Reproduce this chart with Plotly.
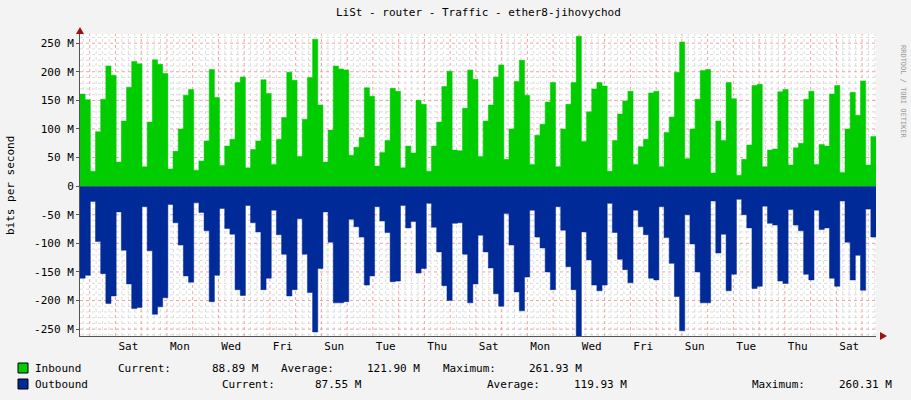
import plotly.graph_objects as go

# Traffic samples (M bit/s), ~4.8 h steps
inbound = [161, 151, 26, 95, 152, 210, 194, 42, 114, 173, 218, 214, 34, 112, 221, 213, 197, 30, 61, 100,
           159, 169, 28, 44, 79, 204, 155, 36, 70, 82, 181, 191, 32, 64, 79, 186, 162, 38, 82,
           120, 199, 185, 52, 117, 190, 257, 142, 42, 98, 210, 205, 203, 54, 68, 85, 172, 157, 35, 59,
           80, 171, 166, 32, 70, 58, 150, 143, 26, 70, 112, 174, 201, 63, 62, 136, 203, 187, 52,
           114, 142, 191, 212, 47, 100, 183, 220, 159, 38, 89, 108, 147, 181, 34, 100, 143, 181, 262, 78,
           130, 170, 181, 175, 26, 80, 126, 149, 166, 38, 69, 82, 163, 166, 34, 94, 121, 199,
           252, 48, 100, 152, 202, 204, 23, 114, 80, 181, 153, 19, 47, 72, 176, 178, 34, 63, 65, 165,
           169, 37, 67, 75, 152, 166, 38, 73, 70, 161, 176, 24, 100, 164, 124, 184, 37, 87]
outbound = [161, 156, 27, 97, 153, 205, 192, 45, 112, 171, 214, 212, 36, 113, 224, 211, 195, 32, 64, 103,
            157, 168, 29, 46, 78, 202, 156, 39, 74, 84, 181, 191, 34, 64, 80, 181, 161, 42, 85,
            119, 192, 181, 57, 119, 186, 255, 144, 45, 98, 204, 204, 202, 58, 71, 89, 173, 157, 36, 61,
            81, 167, 166, 34, 73, 62, 152, 144, 30, 72, 115, 174, 200, 65, 64, 119, 204, 171, 86,
            115, 143, 188, 210, 48, 103, 185, 218, 159, 42, 89, 108, 150, 181, 36, 77, 141, 181, 262, 80,
            129, 173, 183, 173, 30, 81, 128, 146, 169, 42, 71, 85, 161, 164, 36, 90, 135, 193,
            253, 50, 101, 150, 204, 204, 26, 117, 84, 183, 154, 23, 50, 73, 179, 175, 35, 65, 68, 166,
            170, 41, 68, 78, 154, 164, 42, 76, 73, 161, 175, 26, 98, 164, 121, 182, 40, 89]
day_labels = ['Sat', 'Mon', 'Wed', 'Fri', 'Sun', 'Tue', 'Thu', 'Sat', 'Mon', 'Wed', 'Fri', 'Sun', 'Tue', 'Thu', 'Sat']
y_ticks = [-250, -200, -150, -100, -50, 0, 50, 100, 150, 200, 250]

W, H = 911, 400
L, R, T, B = 80, 876, 34, 336
x_start, x_end = -0.377, 30.54
n = len(inbound)
step = (x_end - x_start) / n
xs = [x_start + i * step for i in range(n + 1)]
yin = [v * 1e6 for v in inbound] + [inbound[-1] * 1e6]
yout = [-v * 1e6 for v in outbound] + [-outbound[-1] * 1e6]

mono = 'DejaVu Sans Mono'
fig = go.Figure()
fig.add_trace(go.Scatter(x=xs, y=yin, line_shape='hv', fill='tozeroy', mode='lines',
                         line=dict(color='#00CC00', width=0.5), fillcolor='#00CC00', hoverinfo='skip'))
fig.add_trace(go.Scatter(x=xs, y=yout, line_shape='hv', fill='tozeroy', mode='lines',
                         line=dict(color='#002A97', width=0.5), fillcolor='#002A97', hoverinfo='skip'))

# grid: minor 6h / 10M gray, major midnight / 50M red
shapes = []
for k in range(-1, 31 * 4 + 1):
    xv = k / 4
    if x_start < xv < x_end and k % 4:
        shapes.append(dict(type='line', x0=xv, x1=xv, y0=0, y1=1, yref='paper',
                           line=dict(color='#dcdcdc', width=1, dash='dot'), layer='below'))
for m in range(-26, 27):
    if m % 5:
        shapes.append(dict(type='line', x0=0, x1=1, xref='paper', y0=m * 1e7, y1=m * 1e7,
                           line=dict(color='#dcdcdc', width=1, dash='dot'), layer='below'))
for d in range(0, 31):
    shapes.append(dict(type='line', x0=d, x1=d, y0=0, y1=1, yref='paper',
                       line=dict(color='#f2a0a0', width=1, dash='dot'), layer='below'))
for t in y_ticks:
    shapes.append(dict(type='line', x0=0, x1=1, xref='paper', y0=t * 1e6, y1=t * 1e6,
                       line=dict(color='#f2a0a0', width=1, dash='dot'), layer='below'))


def px(x):
    return (x - L) / (R - L)


def py(y):
    return (B - y) / (B - T)


# legend squares
for yy, c in [(368, '#00CC00'), (384, '#002A97')]:
    shapes.append(dict(type='rect', xref='paper', yref='paper', x0=px(18), x1=px(28),
                       y0=py(yy + 5), y1=py(yy - 5), fillcolor=c, line=dict(color='black', width=1)))

# axis arrows
shapes.append(dict(type='path', xref='paper', yref='paper',
                   path=f'M {px(76)},{py(34)} L {px(84)},{py(34)} L {px(80)},{py(27)} Z',
                   fillcolor='#a01010', line=dict(width=0)))
shapes.append(dict(type='path', xref='paper', yref='paper',
                   path=f'M {px(880)},{py(332)} L {px(880)},{py(340)} L {px(887)},{py(336)} Z',
                   fillcolor='#a01010', line=dict(width=0)))

ann = []
txt = dict(xref='paper', yref='paper', showarrow=False, font=dict(family=mono, size=11, color='#000'))
legend_bits = [
    ('Inbound', 33, 368, 'left'), ('Current:', 116, 368, 'left'), ('88.89 M', 261, 368, 'right'),
    ('Average:', 279, 368, 'left'), ('121.90 M', 422, 368, 'right'),
    ('Maximum:', 441, 368, 'left'), ('261.93 M', 584, 368, 'right'),
    ('Outbound', 33, 384, 'left'), ('Current:', 220, 384, 'left'), ('87.55 M', 364, 384, 'right'),
    ('Average:', 485, 384, 'left'), ('119.93 M', 629, 384, 'right'),
    ('Maximum:', 750, 384, 'left'), ('260.31 M', 894, 384, 'right'),
]
for s, x, y, a in legend_bits:
    ann.append(dict(text=s, x=px(x), y=py(y), xanchor=a, yanchor='middle', **txt))
ann.append(dict(text='LiSt - router - Traffic - ether8-jihovychod', x=0.5, y=py(12),
                xanchor='center', yanchor='middle', **txt))
ann.append(dict(text='bits per second', x=px(10), y=py(186), textangle=-90,
                xanchor='center', yanchor='middle', **txt))
ann.append(dict(text='RRDTOOL / TOBI OETIKER', x=px(903), y=py(92), textangle=90,
                xanchor='center', yanchor='middle', xref='paper', yref='paper', showarrow=False,
                font=dict(family=mono, size=7, color='#999')))

fig.update_layout(
    width=W, height=H, margin=dict(l=L, r=W - R, t=T, b=H - B),
    paper_bgcolor='#f3f3f3', plot_bgcolor='white', showlegend=False,
    font=dict(family=mono, size=11, color='#000'),
    shapes=shapes, annotations=ann,
    xaxis=dict(range=[x_start, x_end], tickvals=[1.5 + 2 * i for i in range(len(day_labels))],
               ticktext=day_labels, showgrid=False, zeroline=False, showline=True,
               linecolor='#555', ticks='', fixedrange=True),
    yaxis=dict(range=[-262e6, 266e6], tickvals=[t * 1e6 for t in y_ticks],
               ticktext=[f'{t} M' if t else '0' for t in y_ticks], showgrid=False,
               zeroline=False, showline=True, linecolor='#555', ticks='outside',
               ticklen=3, tickcolor='#555', fixedrange=True),
)
fig.write_html("out.html", config={'displayModeBar': False},
               post_script="document.body.style.margin='0';")
